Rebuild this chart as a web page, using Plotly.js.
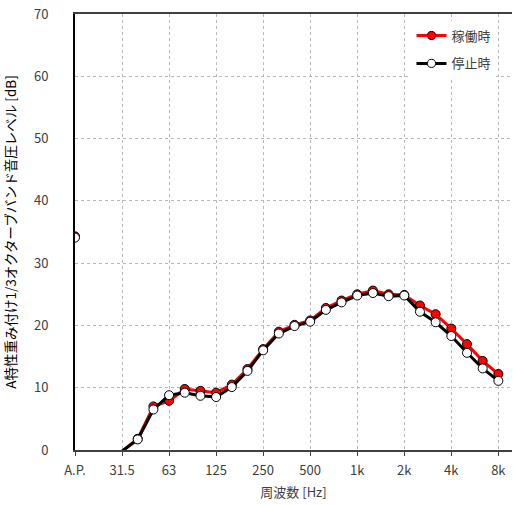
<!DOCTYPE html>
<html>
<head>
<meta charset="utf-8">
<script src="https://cdn.plot.ly/plotly-3.0.1.min.js"></script>
<style>html,body{margin:0;padding:0;background:#fff;}#chart{width:513px;height:505px;}</style>
</head>
<body>
<div id="chart"></div>
<script>
// band index: 0 = A.P., 1 = 20Hz, 2 = 25Hz, 3 = 31.5Hz ... 27 = 8kHz
const bandIndex = [0,1,2,3,4,5,6,7,8,9,10,11,12,13,14,15,16,17,18,19,20,21,22,23,24,25,26,27];
const tickPositions = [0,3,6,9,12,15,18,21,24,27];
const tickLabels = ["A.P.","31.5","63","125","250","500","1k","2k","4k","8k"];
const seriesNames = ["稼働時","停止時"];
const operating = [34.3,null,null,-0.2,1.8,7.0,7.9,9.8,9.5,9.2,10.5,13.0,16.2,19.0,20.1,20.8,22.8,24.0,25.0,25.6,25.0,24.9,23.2,21.8,19.5,17.0,14.3,12.2];
const stopped   = [34.1,null,null,-0.2,1.7,6.5,8.8,9.2,8.7,8.5,10.1,12.7,16.0,18.7,19.9,20.6,22.5,23.7,24.8,25.2,24.7,24.8,22.2,20.5,18.3,15.6,13.1,11.1];

function markerSizes(vals, s){ return vals.map(v => (v === null || v < 0) ? 0 : s); }

const fontFamily = '"Noto Sans CJK JP", "Noto Sans", sans-serif';

const traces = [
  {
    x: bandIndex, y: operating, name: seriesNames[0], type: 'scatter', mode: 'lines+markers',
    line: {color: '#ff0000', width: 3},
    marker: {color: '#ff0000', opacity: 1, size: markerSizes(operating, 9), line: {color: '#000', width: 1}},
    legendgroup: 'a', cliponaxis: true
  },
  {
    x: bandIndex, y: stopped, name: seriesNames[1], type: 'scatter', mode: 'lines+markers',
    line: {color: '#000000', width: 3},
    marker: {color: '#ffffff', opacity: 1, size: markerSizes(stopped, 9), line: {color: '#000', width: 1}},
    legendgroup: 'b', cliponaxis: true
  }
];

const layout = {
  width: 513, height: 505,
  margin: {l: 75, r: 1, t: 14, b: 55},
  paper_bgcolor: '#fff', plot_bgcolor: '#fff',
  font: {family: fontFamily, size: 13, color: '#404040'},
  showlegend: true,
  legend: {
    x: 0.77, y: 0.985, xanchor: 'left', yanchor: 'top',
    bgcolor: 'rgba(255,255,255,1)', borderwidth: 0,
    font: {family: fontFamily, size: 13, color: '#404040'},
    traceorder: 'grouped', tracegroupgap: 8, itemwidth: 30
  },
  xaxis: {
    range: [0, 27.87], tickmode: 'array', tickvals: tickPositions, ticktext: tickLabels,
    showgrid: true, gridcolor: '#b8b8b8', griddash: '3px,3px', gridwidth: 1,
    showline: true, linecolor: '#404040', linewidth: 2, mirror: true,
    ticks: 'outside', ticklen: 4, tickcolor: '#404040',
    zeroline: false, tickfont: {size: 13, color: '#404040'},
    ticklabelstandoff: 3,
    title: {text: '周波数 [Hz]', font: {size: 13, color: '#404040'}, standoff: 10}
  },
  yaxis: {
    range: [0, 70], tickmode: 'array', tickvals: [0,10,20,30,40,50,60,70],
    showgrid: true, gridcolor: '#b8b8b8', griddash: '3px,3px', gridwidth: 1,
    showline: true, linecolor: '#000000', linewidth: 2,
    ticks: '', zeroline: false, ticklabelstandoff: 22,
    tickfont: {size: 13, color: '#404040'},
    title: {text: 'A特性重み付け1/3オクターブバンド音圧レベル [dB]', font: {size: 13.5, color: '#000'}, standoff: 24}
  }
};

Plotly.newPlot('chart', traces, layout, {displayModeBar: false, staticPlot: true});
</script>
</body>
</html>
